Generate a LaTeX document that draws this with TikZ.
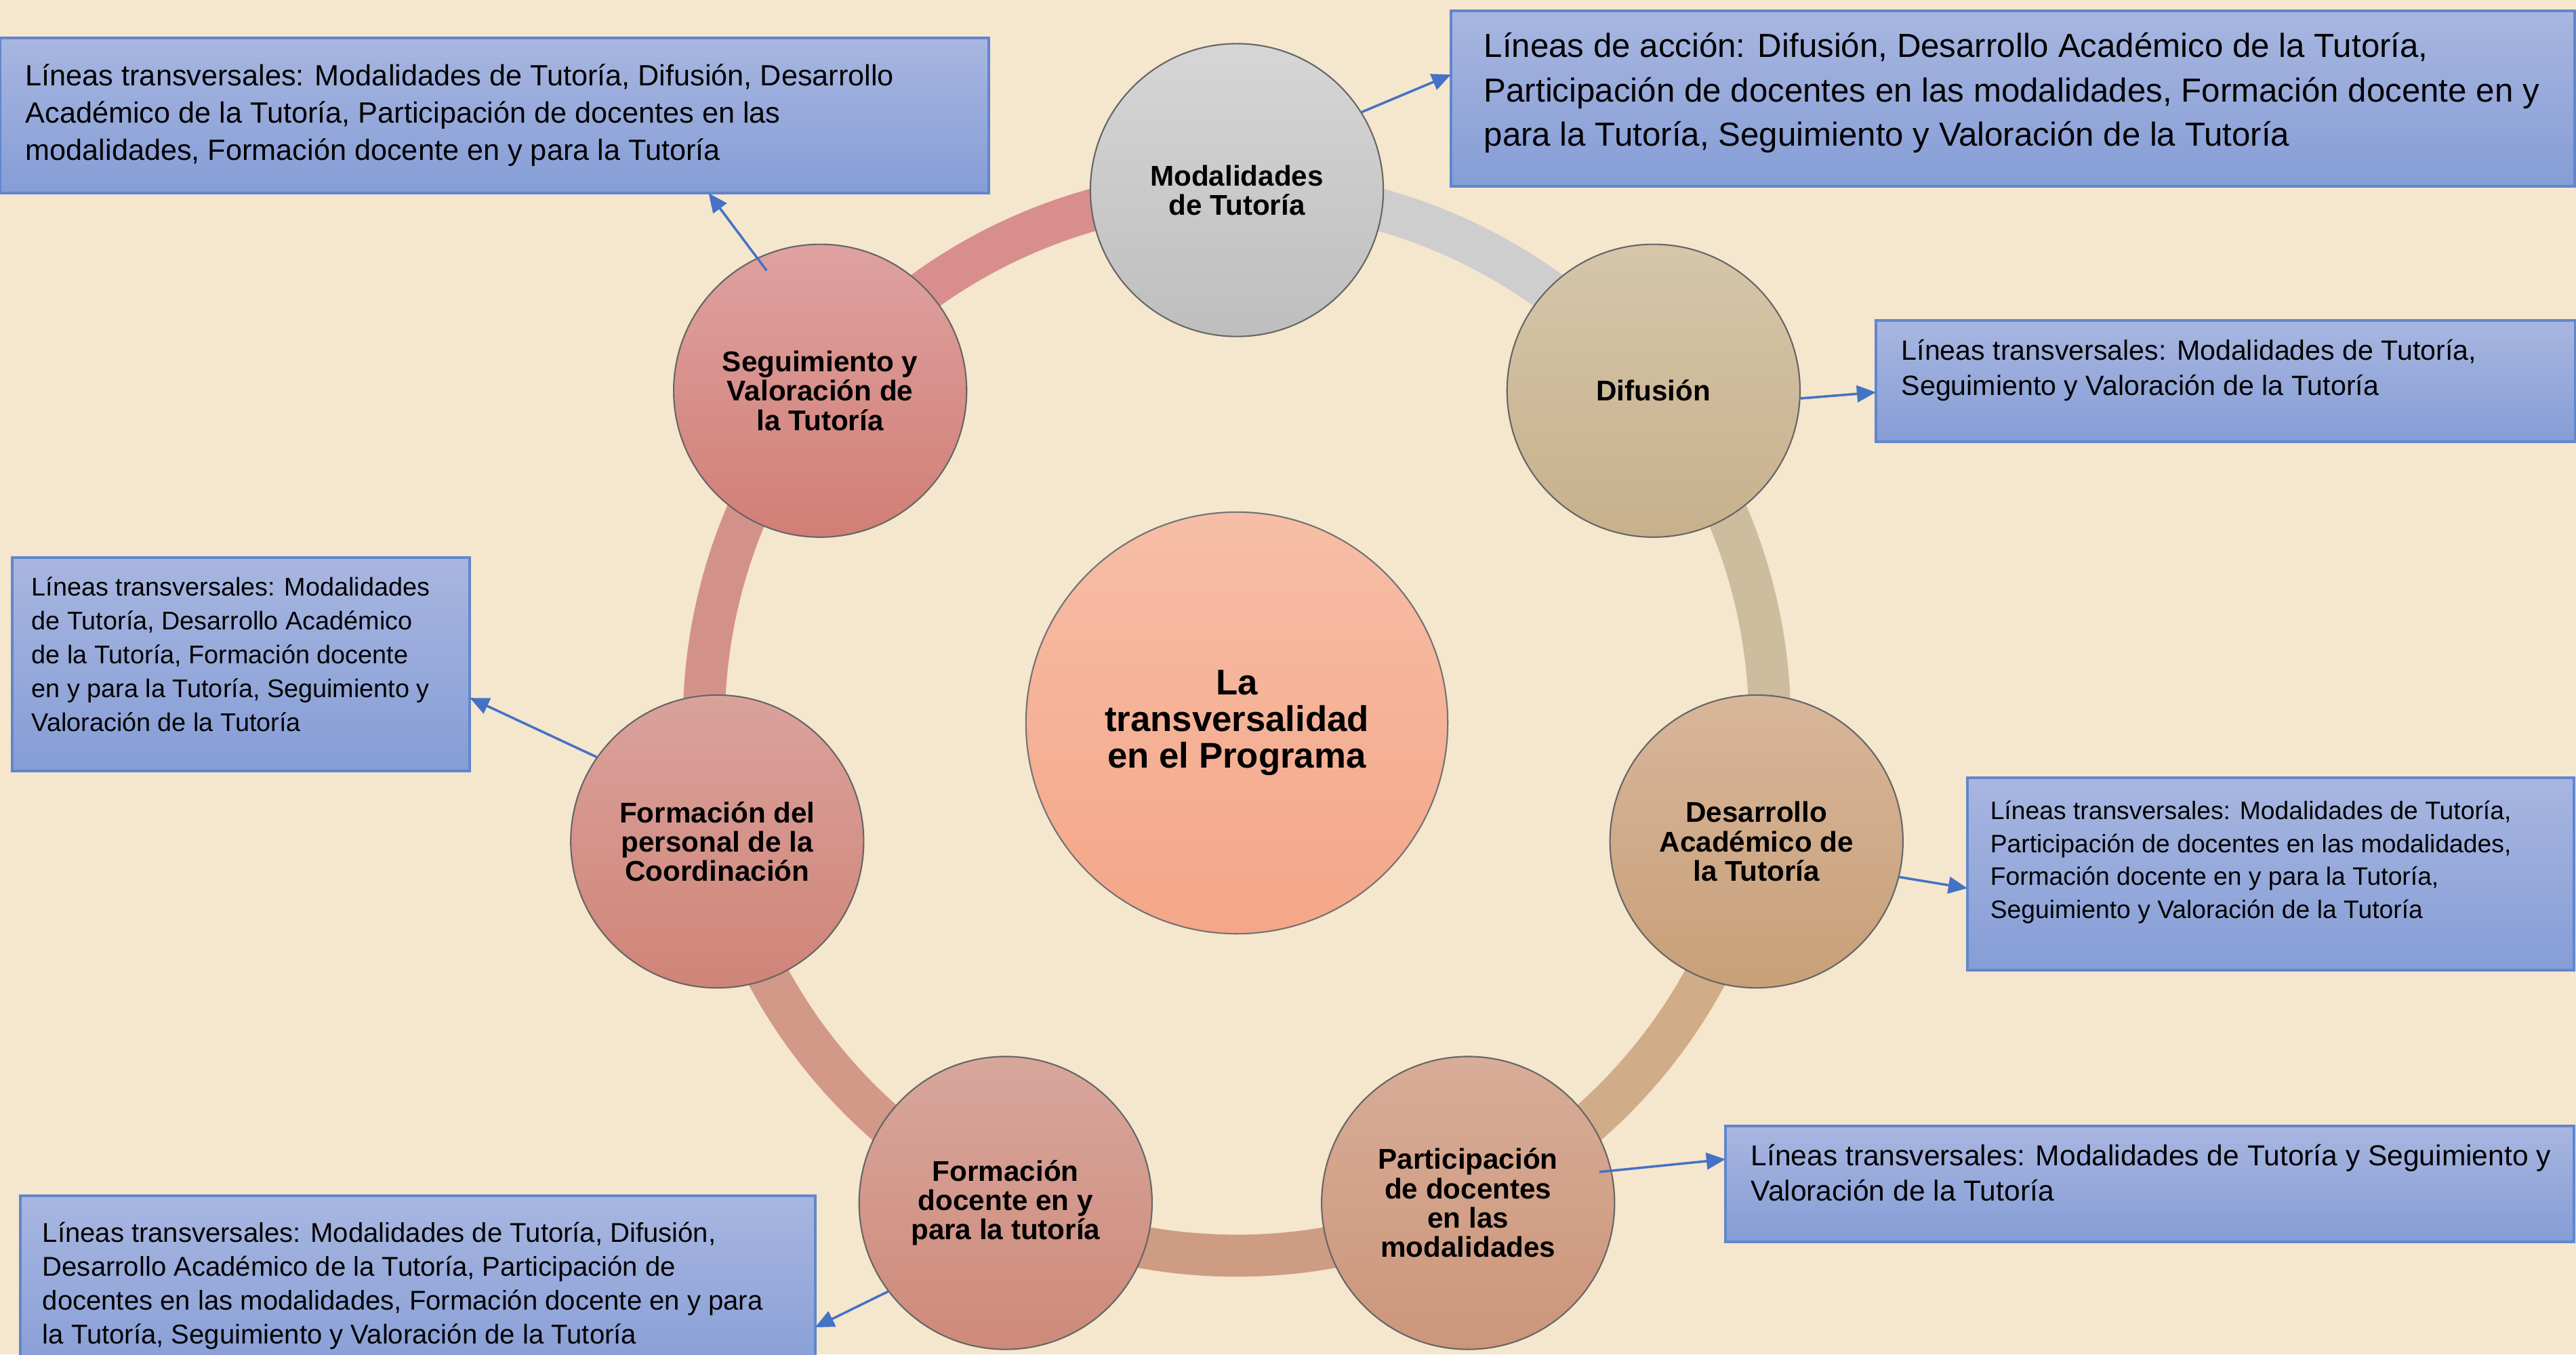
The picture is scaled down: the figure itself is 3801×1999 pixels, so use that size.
\documentclass[tikz,border=0pt]{standalone}
\usepackage{fontspec}
\setmainfont{Liberation Sans}
\usetikzlibrary{arrows.meta,calc}
\definecolor{bg}{RGB}{245,230,206}
\definecolor{boxtop}{RGB}{168,182,224}
\definecolor{boxbot}{RGB}{133,157,214}
\definecolor{boxedge}{RGB}{98,134,204}
\definecolor{arrowblue}{RGB}{68,114,196}
\definecolor{modT}{RGB}{214,214,214}\definecolor{modB}{RGB}{190,190,190}
\definecolor{difT}{RGB}{213,198,170}\definecolor{difB}{RGB}{200,176,140}
\definecolor{desT}{RGB}{216,182,155}\definecolor{desB}{RGB}{200,160,120}
\definecolor{parT}{RGB}{216,172,152}\definecolor{parB}{RGB}{204,150,122}
\definecolor{fdT}{RGB}{216,166,156}\definecolor{fdB}{RGB}{206,138,122}
\definecolor{fpT}{RGB}{218,162,156}\definecolor{fpB}{RGB}{208,132,120}
\definecolor{segT}{RGB}{222,162,160}\definecolor{segB}{RGB}{210,126,118}
\definecolor{cenT}{RGB}{246,190,166}\definecolor{cenB}{RGB}{245,166,136}
\definecolor{rA}{RGB}{206,206,206}
\definecolor{rB}{RGB}{205,188,158}
\definecolor{rC}{RGB}{208,172,136}
\definecolor{rD}{RGB}{206,156,130}
\definecolor{rE}{RGB}{210,152,136}
\definecolor{rF}{RGB}{210,146,138}
\definecolor{rG}{RGB}{216,142,140}
\begin{document}
\begin{tikzpicture}[x=0.01cm,y=-0.01cm,
  bub/.style={circle, draw=black!60, line width=0.6pt, minimum size=4.32cm, inner sep=0pt,
    align=center, font=\bfseries\fontsize{12}{12.3}\selectfont},
  tbox/.style={rectangle, draw=boxedge, line width=1.1pt, top color=boxtop, bottom color=boxbot,
    inner sep=0pt, outer sep=0pt, anchor=north west},
  btxt/.style={inner sep=0pt, anchor=north west, align=left},
  conn/.style={draw=arrowblue, line width=1pt, -{Triangle[length=8pt,width=7pt]}},
  ringseg/.style={line width=0.62cm}
]
\useasboundingbox (0,0) rectangle (3801,1999);
\clip (0,0) rectangle (3801,1999);
\fill[bg] (0,0) rectangle (3801,1999);

% ring
\coordinate (c) at (1825,1067);
\draw[ringseg, rA] ($(c)+(90:7.86cm)$) arc[start angle=90, end angle=38.571, radius=7.86cm];
\draw[ringseg, rB] ($(c)+(38.571:7.86cm)$) arc[start angle=38.571, end angle=-12.857, radius=7.86cm];
\draw[ringseg, rC] ($(c)+(-12.857:7.86cm)$) arc[start angle=-12.857, end angle=-64.286, radius=7.86cm];
\draw[ringseg, rD] ($(c)+(-64.286:7.86cm)$) arc[start angle=-64.286, end angle=-115.714, radius=7.86cm];
\draw[ringseg, rE] ($(c)+(-115.714:7.86cm)$) arc[start angle=-115.714, end angle=-167.143, radius=7.86cm];
\draw[ringseg, rF] ($(c)+(-167.143:7.86cm)$) arc[start angle=-167.143, end angle=-218.571, radius=7.86cm];
\draw[ringseg, rG] ($(c)+(141.429:7.86cm)$) arc[start angle=141.429, end angle=90, radius=7.86cm];

% centre
\node[circle, draw=black!55, line width=0.6pt, minimum size=6.22cm, inner sep=0pt, align=center,
  top color=cenT, bottom color=cenB, font=\bfseries\fontsize{15}{15.4}\selectfont] (cen) at (c)
  {La\\transversalidad\\en el Programa};

% bubbles
\node[bub, top color=modT, bottom color=modB] (mod) at ($(c)+(90:7.86cm)$) {Modalidades\\de Tutoría};
\node[bub, top color=difT, bottom color=difB] (dif) at ($(c)+(38.571:7.86cm)$) {Difusión};
\node[bub, top color=desT, bottom color=desB] (des) at ($(c)+(-12.857:7.86cm)$) {Desarrollo\\Académico de\\la Tutoría};
\node[bub, top color=parT, bottom color=parB] (par) at ($(c)+(-64.286:7.86cm)$) {Participación\\de docentes\\en las\\modalidades};
\node[bub, top color=fdT, bottom color=fdB] (fd) at ($(c)+(-115.714:7.86cm)$) {Formación\\docente en y\\para la tutoría};
\node[bub, top color=fpT, bottom color=fpB] (fp) at ($(c)+(-167.143:7.86cm)$) {Formación del\\personal de la\\Coordinación};
\node[bub, top color=segT, bottom color=segB] (seg) at ($(c)+(141.429:7.86cm)$) {Seguimiento y\\Valoración de\\la Tutoría};

% boxes
\node[tbox, minimum width=14.58cm, minimum height=2.29cm] (b1) at (0,56) {};
\node[btxt, font=\fontsize{12.3}{15.6}\selectfont] (t1) at ([xshift=0.37cm,yshift=-0.38cm]b1.north west)
  {Líneas transversales: Modalidades de Tutoría, Difusión, Desarrollo\\Académico de la Tutoría, Participación de docentes en las\\modalidades, Formación docente en y para la Tutoría};

\node[tbox, minimum width=16.57cm, minimum height=2.59cm] (b2) at (2141,16) {};
\node[btxt, font=\fontsize{14}{18.5}\selectfont] (t2) at ([xshift=0.48cm,yshift=-0.32cm]b2.north west)
  {Líneas de acción: Difusión, Desarrollo Académico de la Tutoría,\\Participación de docentes en las modalidades, Formación docente en y\\para la Tutoría, Seguimiento y Valoración de la Tutoría};

\node[tbox, minimum width=10.31cm, minimum height=1.79cm] (b3) at (2768,473) {};
\node[btxt, font=\fontsize{11.7}{14.8}\selectfont] (t3) at ([xshift=0.37cm,yshift=-0.27cm]b3.north west)
  {Líneas transversales: Modalidades de Tutoría,\\Seguimiento y Valoración de la Tutoría};

\node[tbox, minimum width=6.75cm, minimum height=3.15cm] (b4) at (18,823) {};
\node[btxt, font=\fontsize{10.75}{14.2}\selectfont] (t4) at ([xshift=0.28cm,yshift=-0.28cm]b4.north west)
  {Líneas transversales: Modalidades\\de Tutoría, Desarrollo Académico\\de la Tutoría, Formación docente\\en y para la Tutoría, Seguimiento y\\Valoración de la Tutoría};

\node[tbox, minimum width=8.94cm, minimum height=2.84cm] (b5) at (2903,1148) {};
\node[btxt, font=\fontsize{10.6}{13.9}\selectfont] (t5) at ([xshift=0.33cm,yshift=-0.33cm]b5.north west)
  {Líneas transversales: Modalidades de Tutoría,\\Participación de docentes en las modalidades,\\Formación docente en y para la Tutoría,\\Seguimiento y Valoración de la Tutoría};

\node[tbox, minimum width=12.51cm, minimum height=1.71cm] (b6) at (2546,1662) {};
\node[btxt, font=\fontsize{12.1}{14.8}\selectfont] (t6) at ([xshift=0.37cm,yshift=-0.26cm]b6.north west)
  {Líneas transversales: Modalidades de Tutoría y Seguimiento y\\Valoración de la Tutoría};

\node[tbox, minimum width=11.72cm, minimum height=2.75cm] (b7) at (30,1765) {};
\node[btxt, font=\fontsize{11.4}{14.2}\selectfont] (t7) at ([xshift=0.32cm,yshift=-0.38cm]b7.north west)
  {Líneas transversales: Modalidades de Tutoría, Difusión,\\Desarrollo Académico de la Tutoría, Participación de\\docentes en las modalidades, Formación docente en y para\\la Tutoría, Seguimiento y Valoración de la Tutoría};

% connectors
\draw[conn] (mod.32.5) -- ([yshift=-0.94cm]b2.north west);
\draw[conn] ($(seg.center)+(114:1.94cm)$) -- ([xshift=10.45cm]b1.south west);
\draw[conn] (dif.-3.7) -- ([yshift=-1.06cm]b3.north west);
\draw[conn] (fp.145) -- ([yshift=-2.07cm]b4.north east);
\draw[conn] (des.-14.2) -- ([yshift=-1.63cm]b5.north west);
\draw[conn] ($(par.center)+(13.3:1.99cm)$) -- ([yshift=-0.49cm]b6.north west);
\draw[conn] (fd.217.6) -- ([yshift=-1.94cm]b7.north east);
\end{tikzpicture}
\end{document}
